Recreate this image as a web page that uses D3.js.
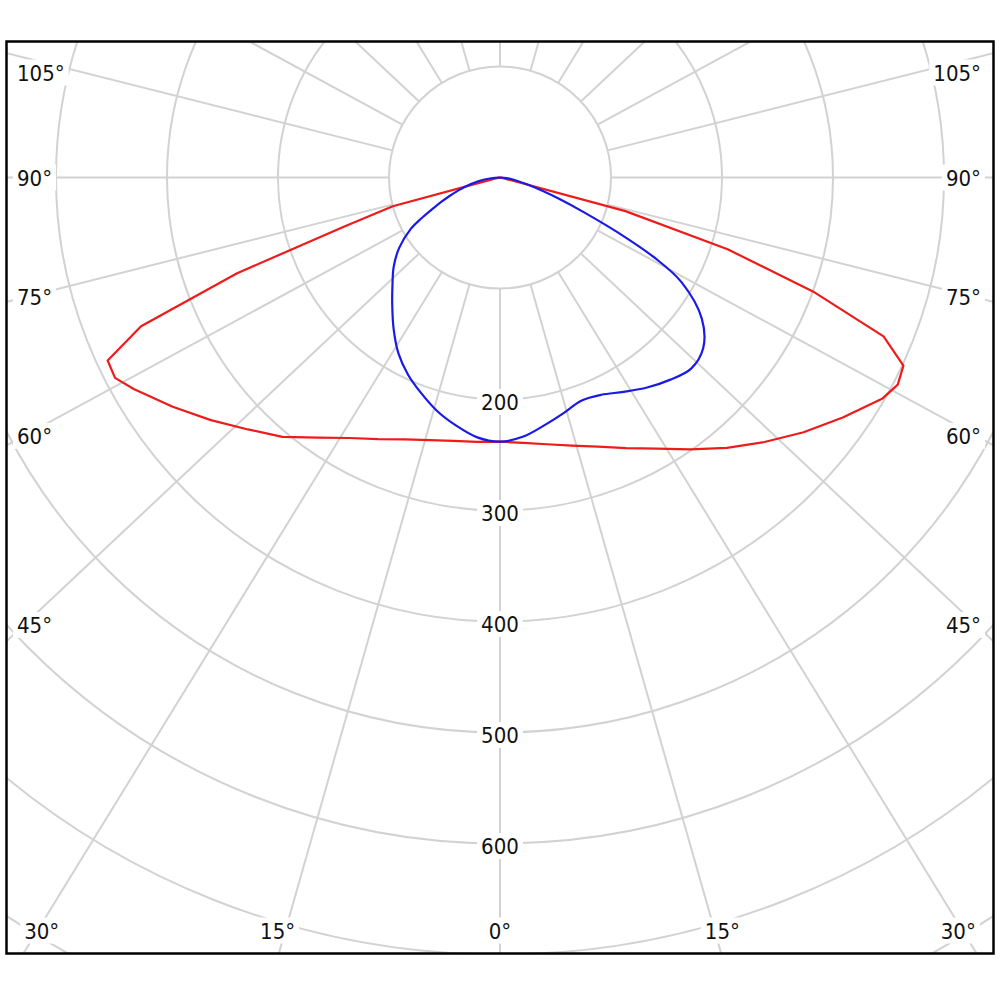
<!DOCTYPE html>
<html>
<head>
<meta charset="utf-8">
<script src="https://cdn.jsdelivr.net/npm/d3@7"></script>
<style>
  body { margin: 0; background: #fff; }
</style>
</head>
<body>
<div id="my_chart"></div>
<script>
// gamma angles (degrees from nadir) shared by all four half-curves
const angles = [0, 5, 10, 15, 20, 25, 30, 35, 40, 45, 50, 55, 60, 62.5, 65, 67.5, 70, 72.5, 75, 80, 85, 90];

// red plane, left and right half (cd/klm)
const redLeft  = [238, 239, 241, 245, 251, 260, 271, 286, 305, 321, 340, 360, 381, 391, 390, 350, 252, 147, 100, 3, 1, 0];
const redRight = [238, 240, 244, 250, 258, 269, 282, 299, 318, 337, 357, 377, 398, 404, 401, 374, 300, 215, 117, 2, 1, 0];

// blue plane, left and right half
const blueLeft  = [238, 235, 227, 218, 207, 196, 183, 167, 151, 137, 125, 111, 93, 80, 67, 57, 48, 40, 33, 20, 8, 0];
const blueRight = [238, 234.5, 227, 220, 214, 216, 223, 231, 238, 243.5, 239, 222, 189, 158, 117, 82, 58, 40, 28, 14, 6, 0];

const valueTicks = [200, 300, 400, 500, 600];
const angleTicks = [0, 15, 30, 45, 60, 75, 90, 105];

const width = 1000;
const height = 1000;
const frame = {left: 7, top: 42, right: 993, bottom: 953};
const cx = 500;
const cy = 177.5;
const gridAspect = 0.94;      // spokes of the grid are drawn a bit flattened
const fontFamily = '"DejaVu Sans Condensed", "Liberation Sans", Arial, sans-serif';
const fontSize = 22;
const gridColor = '#d2d2d2';

const rScale = d3.scaleLinear().domain([0, 100]).range([0, 111]);
const toRad = d => d * Math.PI / 180;

const svg = d3.select('#my_chart')
    .append('svg')
    .attr('width', width)
    .attr('height', height);

svg.append('defs').append('clipPath')
    .attr('id', 'frameClip')
    .append('rect')
    .attr('x', frame.left)
    .attr('y', frame.top)
    .attr('width', frame.right - frame.left)
    .attr('height', frame.bottom - frame.top);

const plot = svg.append('g').attr('clip-path', 'url(#frameClip)');
const g = plot.append('g').attr('transform', `translate(${cx},${cy})`);

// circles
g.selectAll('.ring')
    .data(d3.range(100, 1000, 100))
    .join('circle')
    .attr('class', 'ring')
    .attr('r', d => rScale(d))
    .attr('fill', 'none')
    .attr('stroke', gridColor)
    .attr('stroke-width', 2);

// spokes every 15 deg, starting on the inner circle
const spokeDir = a => {
    const dx = Math.sin(toRad(a));
    const dy = gridAspect * Math.cos(toRad(a));
    const len = Math.hypot(dx, dy);
    return [dx / len, dy / len];
};
g.selectAll('.spoke')
    .data(d3.range(0, 360, 15))
    .join('line')
    .attr('class', 'spoke')
    .attr('x1', d => spokeDir(d)[0] * rScale(100))
    .attr('y1', d => spokeDir(d)[1] * rScale(100))
    .attr('x2', d => spokeDir(d)[0] * 1500)
    .attr('y2', d => spokeDir(d)[1] * 1500)
    .attr('stroke', gridColor)
    .attr('stroke-width', 2);

// label with white box behind it
const labelLayer = plot.append('g');
function addLabel(x, y, txt, anchor) {
    const grp = labelLayer.append('g');
    const t = grp.append('text')
        .attr('x', x)
        .attr('y', y + 8)
        .attr('text-anchor', anchor)
        .style('font-family', fontFamily)
        .style('font-size', fontSize + 'px')
        .attr('fill', '#111')
        .text(txt);
    const bb = t.node().getBBox();
    grp.insert('rect', 'text')
        .attr('x', bb.x - 4)
        .attr('y', y - 13)
        .attr('width', bb.width + 8)
        .attr('height', 26)
        .attr('fill', '#fff');
}

// intensity values down the nadir line
valueTicks.forEach(v => addLabel(cx, cy + rScale(v) + 2.5, String(v), 'middle'));

// angle labels round the frame
const sideX = 476;       // offset where a spoke meets the label column
const bottomY = 930.5;
const topY = 72.5;
angleTicks.forEach(a => {
    [-1, 1].forEach(side => {
        if (a === 0 && side === 1) return;
        const s = Math.sin(toRad(a));
        const c = gridAspect * Math.cos(toRad(a));
        let ySide = s > 0 ? cy + c * sideX / s : Infinity;
        if (ySide <= bottomY) {
            ySide = Math.max(ySide, topY);
            const x = side < 0 ? 17 : 981;
            addLabel(x, ySide, a + '°', side < 0 ? 'start' : 'end');
        } else {
            const d = Math.min((bottomY - cy) * s / c * 1.036, 458.3);
            addLabel(cx + side * d, bottomY, a + '°', 'middle');
        }
    });
});

// light distribution curves
const radial = d3.lineRadial()
    .angle(d => d.a)
    .radius(d => rScale(d.v));

function halfPoints(left, right) {
    const pts = [];
    for (let i = angles.length - 1; i >= 0; i--) {
        pts.push({a: toRad(180 + angles[i]), v: left[i]});
    }
    for (let i = 1; i < angles.length; i++) {
        pts.push({a: toRad(180 - angles[i]), v: right[i]});
    }
    return pts;
}

g.append('path')
    .datum(halfPoints(redLeft, redRight))
    .attr('fill', 'none')
    .attr('stroke', '#ee1b1b')
    .attr('stroke-width', 2.2)
    .attr('stroke-linejoin', 'round')
    .attr('d', radial.curve(d3.curveLinear));

g.append('path')
    .datum(halfPoints(blueLeft, blueRight))
    .attr('fill', 'none')
    .attr('stroke', '#1a1ae8')
    .attr('stroke-width', 2.2)
    .attr('stroke-linejoin', 'round')
    .attr('d', radial.curve(d3.curveCatmullRom.alpha(0.5)));

// frame
svg.append('rect')
    .attr('x', 6.5)
    .attr('y', 41.5)
    .attr('width', 987)
    .attr('height', 912)
    .attr('fill', 'none')
    .attr('stroke', '#000')
    .attr('stroke-width', 2.5);
</script>
</body>
</html>
